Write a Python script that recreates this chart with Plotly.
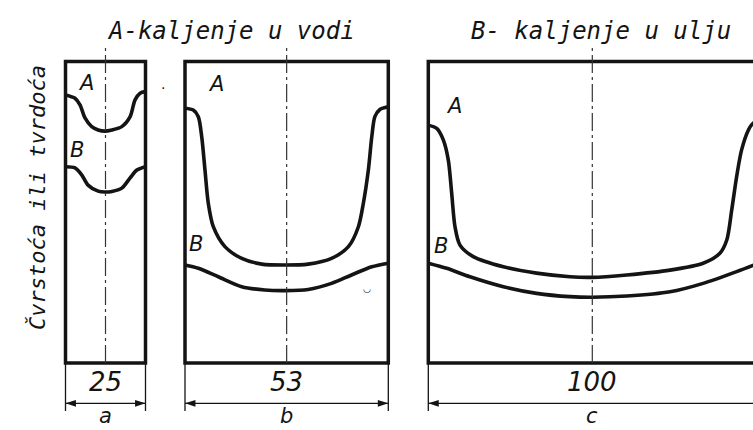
import plotly.graph_objects as go

# ---------------- data ----------------
section_widths = [25, 53, 100]          # mm
width_labels = ["25", "53", "100"]
panel_letters = ["a", "b", "c"]
titles = ["A-kaljenje u vodi", "B- kaljenje u ulju"]
y_title = "Čvrstoća ili tvrdoća"

# panel a (25 mm)
a_pos_A = [0, 2.97, 4.53, 6.09, 8.19, 10.2, 12.3, 14.5, 17.6, 20.2, 21.7, 23.3, 25]
a_hard_A = [88.9, 87.8, 85.6, 81.3, 78.4, 77.3, 76.9, 77.3, 78.4, 81.7, 87.2, 89.5, 90.0]
a_pos_B = [0, 2.97, 5.06, 7.03, 10.2, 12.3, 14.5, 17.6, 20.2, 22.3, 25]
a_hard_B = [65.1, 64.7, 62.4, 59.0, 57.0, 56.7, 56.9, 58.0, 61.4, 64.0, 65.1]

# panel b (53 mm)
b_pos_A = [0, 2.16, 3.47, 4.35, 5.21, 6.07, 7.38, 10.4, 14.8, 20.0, 26.1, 32.1,
           38.2, 42.6, 45.2, 46.5, 47.8, 48.7, 49.5, 50.8, 53]
b_hard_A = [84.5, 83.9, 81.7, 75.1, 64.0, 53.0, 45.2, 38.6, 34.7, 32.8, 32.5, 32.8,
            34.7, 38.6, 45.2, 53.0, 64.0, 75.1, 81.7, 84.1, 85.0]
b_pos_B = [0, 3.47, 8.68, 14.8, 20.8, 26.1, 32.1, 38.2, 43.4, 48.7, 53]
b_hard_B = [32.5, 31.4, 28.6, 25.3, 24.2, 24.0, 24.4, 26.4, 29.2, 31.9, 33.1]

# panel c (100 mm)
c_pos_A = [0, 2.56, 4.57, 6.10, 7.13, 8.14, 9.66, 13.7, 22.9, 33.0, 43.2, 50.0,
           60.5, 73.7, 83.8, 88.9, 91.0, 92.5, 94.0, 95.5, 97.6, 99.0, 100]
c_hard_A = [78.9, 77.8, 74.0, 67.3, 56.3, 45.2, 39.1, 35.3, 31.9, 29.8, 28.6, 28.4,
            29.2, 30.8, 33.1, 36.4, 40.8, 50.7, 61.8, 70.6, 77.3, 79.5, 79.9]
c_pos_B = [0, 5.61, 12.7, 22.9, 33.0, 43.2, 50.0, 60.5, 73.7, 83.8, 94.0, 100]
c_hard_B = [33.1, 31.4, 28.6, 25.3, 23.1, 22.0, 21.8, 22.2, 23.6, 26.4, 30.3, 32.8]

curves_A = [(a_pos_A, a_hard_A), (b_pos_A, b_hard_A), (c_pos_A, c_hard_A)]
curves_B = [(a_pos_B, a_hard_B), (b_pos_B, b_hard_B), (c_pos_B, c_hard_B)]

# ---------------- layout geometry (pixels) ----------------
FIG_W, FIG_H = 753, 430
Y_BOT, Y_TOP = 363.0, 61.5
PPU = (Y_BOT - Y_TOP) / 100.0
frame_left_px = [65.5, 185.0, 428.3]
frame_right_px = [145.5, 388.3, 756.3]
PAD = 8


def h_of(py):
    return (Y_BOT - py) / PPU


INK = "#141414"
FONT = "DejaVu Sans"
MONO = "DejaVu Sans Mono"

fig = go.Figure()
layout_axes = {}
shapes = []
annotations = []

for i, W in enumerate(section_widths):
    L, R = frame_left_px[i], frame_right_px[i]
    s = (R - L) / W
    d0 = max(0.0, (L - PAD) / FIG_W)
    d1 = min(1.0, (R + PAD) / FIG_W)
    r0 = (d0 * FIG_W - L) / s
    r1 = (d1 * FIG_W - L) / s
    xname = "xaxis" if i == 0 else f"xaxis{i + 1}"
    xref = "x" if i == 0 else f"x{i + 1}"
    layout_axes[xname] = dict(domain=[d0, d1], range=[r0, r1], visible=False,
                              anchor="y", fixedrange=True)

    # frame
    shapes.append(dict(type="rect", xref=xref, yref="y", x0=0, x1=W, y0=0, y1=100,
                       line=dict(color=INK, width=3.5), fillcolor="rgba(0,0,0,0)"))
    # centre dash-dot line
    shapes.append(dict(type="line", xref=xref, yref="y", x0=W / 2, x1=W / 2,
                       y0=0, y1=h_of(46),
                       line=dict(color="#333333", width=1.2, dash="18px,4px,3px,4px")))
    # extension lines
    for xv in (0, W):
        shapes.append(dict(type="line", xref=xref, yref="y", x0=xv, x1=xv,
                           y0=0, y1=h_of(411),
                           line=dict(color=INK, width=1.3)))

    # curves
    for (xs, ys) in (curves_A[i], curves_B[i]):
        fig.add_trace(go.Scatter(x=xs, y=ys, xaxis=xref, yaxis="y", mode="lines",
                                 line=dict(color=INK, width=3.6, shape="spline", smoothing=0.8),
                                 hoverinfo="skip", showlegend=False))

    # dimension line with arrowheads
    fig.add_trace(go.Scatter(x=[0, W], y=[h_of(403.3)] * 2, xaxis=xref, yaxis="y",
                             mode="lines+markers", cliponaxis=False,
                             line=dict(color=INK, width=1.3),
                             marker=dict(symbol="arrow", size=11, angle=[-90, 90],
                                         color=INK, line=dict(width=0)),
                             hoverinfo="skip", showlegend=False))

    annotations.append(dict(x=W / 2, y=h_of(382), xref=xref, yref="y",
                            xanchor="center", yanchor="middle",
                            text=f"<i>{width_labels[i]}</i>", showarrow=False,
                            font=dict(family=FONT, size=26, color=INK)))
    annotations.append(dict(x=W / 2, y=h_of(416), xref=xref, yref="y",
                            xanchor="center", yanchor="middle",
                            text=f"<i>{panel_letters[i]}</i>", showarrow=False,
                            font=dict(family=FONT, size=21, color=INK)))

# curve labels A / B (pixel positions converted to paper)
label_px = [("A", 86, 83), ("B", 77, 150), ("A", 216, 84), ("B", 196, 244),
            ("A", 454, 106), ("B", 441, 246)]
for t, px, py in label_px:
    annotations.append(dict(x=px / FIG_W, y=1 - py / FIG_H, xref="paper", yref="paper",
                            xanchor="center", yanchor="middle",
                            text=f"<i>{t}</i>", showarrow=False,
                            font=dict(family=FONT, size=21, color=INK)))

# titles
for t, cx in zip(titles, [231, 601]):
    annotations.append(dict(x=cx / FIG_W, y=1 - 31 / FIG_H, xref="paper", yref="paper",
                            xanchor="center", yanchor="middle",
                            text=f"<i>{t}</i>", showarrow=False,
                            font=dict(family=MONO, size=24, color=INK)))

# y title
annotations.append(dict(x=37 / FIG_W, y=1 - 198 / FIG_H, xref="paper", yref="paper",
                        xanchor="center", yanchor="middle",
                        text=f"<i>{y_title}</i>", showarrow=False, textangle=-90,
                        font=dict(family=MONO, size=22, color=INK)))

# stray scan marks
annotations.append(dict(x=163 / FIG_W, y=1 - 88 / FIG_H, xref="paper", yref="paper",
                        xanchor="center", yanchor="middle",
                        text="·", showarrow=False, font=dict(family=FONT, size=14, color=INK)))
annotations.append(dict(x=367 / FIG_W, y=1 - 289 / FIG_H, xref="paper", yref="paper",
                        xanchor="center", yanchor="middle",
                        text="◡", showarrow=False, font=dict(family=FONT, size=9, color=INK)))

fig.update_layout(
    width=FIG_W, height=FIG_H,
    margin=dict(l=0, r=0, t=0, b=0),
    paper_bgcolor="white", plot_bgcolor="white",
    yaxis=dict(domain=[0, 1], range=[h_of(FIG_H), h_of(0)], visible=False,
               anchor="x", fixedrange=True),
    shapes=shapes, annotations=annotations, showlegend=False,
    **layout_axes,
)

fig.write_html("out.html", config={"displayModeBar": False},
               post_script="document.body.style.margin='0';document.body.style.overflow='hidden';")
